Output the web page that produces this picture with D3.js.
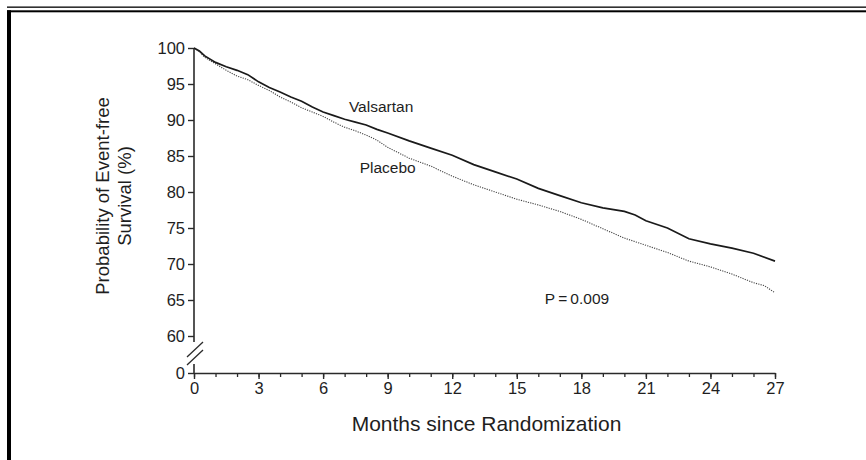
<!DOCTYPE html>
<html><head><meta charset="utf-8">
<script src="https://cdn.jsdelivr.net/npm/d3@7/dist/d3.min.js"></script>
<style>
html,body{margin:0;padding:0;background:#fff;}
svg{display:block;font-family:"Liberation Sans",Arial,Helvetica,sans-serif;}
</style></head>
<body>
<svg id="chart" width="866" height="460"></svg>
<script>
// ---- data ----
const valsartanMonths = [0,0.25,0.5,1,1.5,2,2.5,3,3.5,4,4.5,5,5.5,6,6.5,7,7.5,8,8.5,9,10,11,12,13,14,15,16,17,18,19,20,20.5,21,22,23,24,25,26,27];
const valsartanValues = [100,99.6,98.9,98.0,97.4,96.9,96.3,95.3,94.5,93.9,93.2,92.6,91.8,91.1,90.6,90.1,89.7,89.3,88.7,88.2,87.1,86.1,85.1,83.8,82.8,81.8,80.5,79.5,78.5,77.8,77.3,76.8,76.0,75.0,73.5,72.8,72.2,71.5,70.4];
const placeboMonths = [0,0.25,0.5,1,1.5,2,2.5,3,3.5,4,4.5,5,5.5,6,6.5,7,7.5,8,8.5,9,10,11,12,13,14,15,16,17,18,19,20,21,22,23,24,25,26,26.5,27];
const placeboValues = [100,99.5,98.7,97.8,96.9,96.1,95.6,94.8,94.1,93.2,92.5,91.7,91.1,90.5,89.7,89.0,88.5,87.9,87.2,86.2,84.7,83.6,82.2,81.0,80.0,79.0,78.2,77.3,76.2,74.9,73.6,72.6,71.6,70.4,69.6,68.6,67.4,67.0,66.0];
const xTickLabels = [0,3,6,9,12,15,18,21,24,27];
const yTickLabels = [0,60,65,70,75,80,85,90,95,100];
const seriesLabels = ["Valsartan","Placebo"];
const pValueText = "P\u2009=\u20090.009";
const xTitle = "Months since Randomization";
const yTitleLines = ["Probability of Event-free","Survival (%)"];

// ---- layout ----
const svg = d3.select("#chart");
const pLeft = 194, pRight = 775, pTop = 48, pBottom = 373;
const x = d3.scaleLinear().domain([0,27]).range([pLeft,pRight]);
const y = d3.scaleLinear().domain([0,60,100]).range([pBottom, pBottom-37, pTop]);
const axisColor = "#2a2a2a";
const txt = "#1e1e1e";

// frame
svg.append("rect").attr("x",7).attr("y",6.5).attr("width",859).attr("height",1.3).attr("fill","#000");
svg.append("rect").attr("x",7).attr("y",10.3).attr("width",859).attr("height",2).attr("fill","#000");
svg.append("rect").attr("x",7).attr("y",10.3).attr("width",4).attr("height",450).attr("fill","#000");

// x axis minor ticks
const gxMinor = svg.append("g").attr("transform",`translate(0,${pBottom})`)
  .call(d3.axisBottom(x).tickValues(d3.range(0,28)).tickSize(4).tickFormat(""));
gxMinor.select(".domain").remove();
gxMinor.selectAll("line").attr("stroke",axisColor).attr("stroke-width",1.3);

const gx = svg.append("g").attr("transform",`translate(0,${pBottom})`)
  .call(d3.axisBottom(x).tickValues(xTickLabels).tickSize(6).tickSizeOuter(0).tickPadding(3));
gx.select(".domain").attr("stroke",axisColor).attr("stroke-width",1.6);
gx.selectAll("line").attr("stroke",axisColor).attr("stroke-width",1.4);
gx.attr("font-size",16.5).attr("font-family","Liberation Sans, Arial, sans-serif");
gx.selectAll("text").attr("fill",txt);

// y axis
const gy = svg.append("g").attr("transform",`translate(${pLeft},0)`)
  .call(d3.axisLeft(y).tickValues(yTickLabels).tickSize(6).tickPadding(3));
gy.select(".domain").remove();
gy.selectAll("line").attr("stroke",axisColor).attr("stroke-width",1.4);
gy.attr("font-size",16.5).attr("font-family","Liberation Sans, Arial, sans-serif");
gy.selectAll("text").attr("fill",txt);

// y axis line with break
svg.append("line").attr("x1",pLeft).attr("x2",pLeft).attr("y1",y(100)).attr("y2",y(60)+6)
  .attr("stroke",axisColor).attr("stroke-width",1.6);
svg.append("line").attr("x1",pLeft).attr("x2",pLeft).attr("y1",y(0)-9).attr("y2",y(0))
  .attr("stroke",axisColor).attr("stroke-width",1.6);
[0,8].forEach(o=>{
  svg.append("line").attr("x1",pLeft-7).attr("x2",pLeft+9)
    .attr("y1",y(60)+21+o).attr("y2",y(60)+6+o)
    .attr("stroke",axisColor).attr("stroke-width",1.3);
});

// curves
const line = d3.line().x(d=>x(d[0])).y(d=>y(d[1])).curve(d3.curveLinear);
const vData = valsartanMonths.map((m,i)=>[m,valsartanValues[i]]);
const pData = placeboMonths.map((m,i)=>[m,placeboValues[i]]);
svg.append("path").datum(pData).attr("d",line).attr("fill","none")
  .attr("stroke","#444").attr("stroke-width",1.1).attr("stroke-dasharray","1.2,1.2");
svg.append("path").datum(vData).attr("d",line).attr("fill","none")
  .attr("stroke","#1a1a1a").attr("stroke-width",1.7);

// annotations
svg.append("text").attr("x",x(7.2)).attr("y",y(91.1)).attr("font-size",15.5).attr("fill",txt).text(seriesLabels[0]);
svg.append("text").attr("x",x(7.7)).attr("y",y(82.6)).attr("font-size",15.5).attr("fill",txt).text(seriesLabels[1]);
svg.append("text").attr("x",x(16.3)).attr("y",y(64.5)).attr("font-size",15.5).attr("fill",txt).text(pValueText);

// titles
svg.append("text").attr("x",(pLeft+pRight)/2 + 2).attr("y",431).attr("text-anchor","middle")
  .attr("font-size",21).attr("fill",txt).text(xTitle);
yTitleLines.forEach((t,i)=>{
  svg.append("text").attr("transform",`translate(${109+i*22},${196}) rotate(-90)`)
    .attr("text-anchor","middle").attr("font-size",18.5).attr("fill",txt).text(t);
});
</script>
</body></html>
